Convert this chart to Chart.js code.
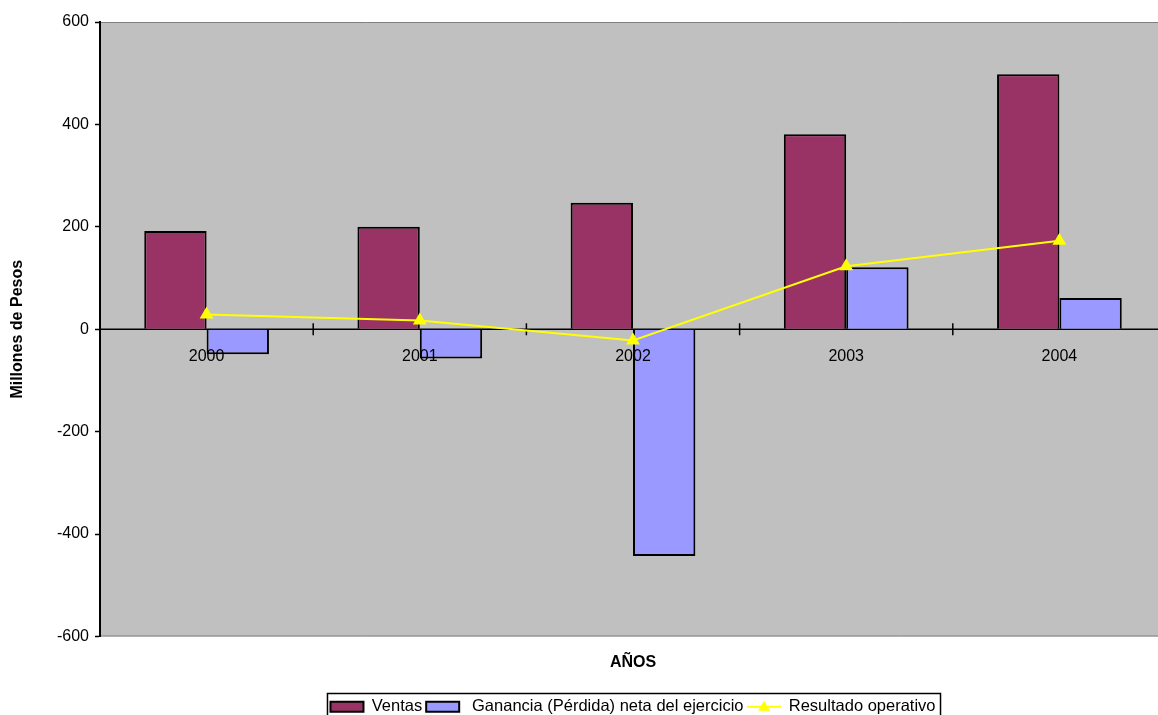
<!DOCTYPE html>
<html>
<head>
<meta charset="utf-8">
<script src="https://cdn.jsdelivr.net/npm/chart.js@4"></script>
<style>
  html, body { margin: 0; padding: 0; background: #fff; overflow: hidden; }
  canvas { display: block; }
</style>
</head>
<body>
<canvas id="ventasChart" width="1174" height="730"></canvas>
<script>
const years = ['2000', '2001', '2002', '2003', '2004'];
const ventas = [192, 200, 247, 381, 498];
const ganancia = [-49, -57, -443, 121, 61];
const resultado = [29, 17, -22, 123, 173];
const yTicks = [-600, -400, -200, 0, 200, 400, 600];

const FONT = '"Liberation Sans", Arial, sans-serif';

// little line+triangle icon for the legend entry of the line series
const lineIcon = document.createElement('canvas');
lineIcon.width = 34;
lineIcon.height = 14;
(function () {
    const c = lineIcon.getContext('2d');
    c.strokeStyle = '#FFFF00';
    c.lineWidth = 2;
    c.beginPath();
    c.moveTo(0, 7);
    c.lineTo(34, 7);
    c.stroke();
    c.fillStyle = '#FFFF00';
    c.beginPath();
    c.moveTo(17, 1);
    c.lineTo(23, 11);
    c.lineTo(11, 11);
    c.closePath();
    c.fill();
})();

const plotDecor = {
    id: 'plotDecor',
    beforeDraw(chart) {
        const { ctx, chartArea: a } = chart;
        ctx.save();
        ctx.fillStyle = '#C0C0C0';
        ctx.fillRect(a.left, a.top, a.right - a.left, a.bottom - a.top);
        ctx.strokeStyle = '#808080';
        ctx.lineWidth = 1;
        ctx.beginPath();
        ctx.moveTo(a.left, a.top + 0.5);
        ctx.lineTo(a.right, a.top + 0.5);
        ctx.moveTo(a.left, a.bottom - 0.5);
        ctx.lineTo(a.right, a.bottom - 0.5);
        ctx.stroke();
        ctx.restore();
    },
    beforeDatasetsDraw(chart) {
        const { ctx, chartArea: a, scales } = chart;
        const x = scales.x, y = scales.y;
        const y0 = y.getPixelForValue(0);
        const step = x.getPixelForValue(1) - x.getPixelForValue(0);
        ctx.save();
        ctx.strokeStyle = '#000';
        ctx.lineWidth = 1.5;
        ctx.beginPath();
        ctx.moveTo(a.left, y0);
        ctx.lineTo(a.right, y0);
        for (let i = 0; i < years.length; i++) {
            const bx = x.getPixelForValue(i) + step / 2;
            ctx.moveTo(bx, y0 - 6);
            ctx.lineTo(bx, y0 + 6);
        }
        ctx.stroke();
        ctx.restore();
    },
    afterDatasetsDraw(chart) {
        const { ctx, scales } = chart;
        const y0 = scales.y.getPixelForValue(0);
        ctx.save();
        ctx.fillStyle = '#000';
        ctx.font = '16px ' + FONT;
        ctx.textAlign = 'center';
        ctx.textBaseline = 'middle';
        years.forEach((yr, i) => {
            ctx.fillText(yr, scales.x.getPixelForValue(i), y0 + 27);
        });
        ctx.restore();
    },
    afterDraw(chart) {
        const boxes = chart.legend.legendHitBoxes;
        if (!boxes || !boxes.length) return;
        const left = Math.min(...boxes.map(b => b.left)) - 3;
        const right = Math.max(...boxes.map(b => b.left + b.width)) + 5;
        const top = Math.min(...boxes.map(b => b.top)) - 5;
        const ctx = chart.ctx;
        ctx.save();
        ctx.strokeStyle = '#000';
        ctx.lineWidth = 1.5;
        ctx.strokeRect(left, top, right - left, 60);
        ctx.restore();
    }
};

const ctx = document.getElementById('ventasChart').getContext('2d');
const ventasChart = new Chart(ctx, {
    type: 'bar',
    data: {
        labels: years,
        datasets: [{
            label: 'Ventas',
            data: ventas,
            backgroundColor: '#993366',
            borderColor: '#000',
            borderWidth: 2,
            order: 1
        }, {
            label: ' Ganancia (Pérdida) neta del ejercicio',
            data: ganancia,
            backgroundColor: '#9999FF',
            borderColor: '#000',
            borderWidth: 2,
            order: 1
        }, {
            type: 'line',
            label: 'Resultado operativo',
            data: resultado,
            borderColor: '#FFFF00',
            backgroundColor: '#FFFF00',
            borderWidth: 2,
            tension: 0,
            pointStyle: 'triangle',
            pointRadius: 6,
            pointBackgroundColor: '#FFFF00',
            pointBorderColor: '#FFFF00',
            order: 0
        }]
    },
    options: {
        responsive: false,
        animation: false,
        layout: { padding: { top: 22, right: 2, left: 0, bottom: 5 } },
        datasets: {
            bar: { categoryPercentage: 0.585, barPercentage: 1.0 }
        },
        scales: {
            x: {
                ticks: { display: false },
                grid: { display: false },
                border: { display: false },
                title: {
                    display: true,
                    text: 'AÑOS',
                    color: '#000',
                    font: { family: FONT, size: 16, weight: 'bold' },
                    padding: { top: 0, bottom: 22 }
                },
                afterFit(s) { s.height = 58; }
            },
            y: {
                min: -600,
                max: 600,
                afterBuildTicks(s) { s.ticks = yTicks.map(v => ({ value: v })); },
                ticks: {
                    color: '#000',
                    padding: 6,
                    font: { family: FONT, size: 16 }
                },
                grid: {
                    drawOnChartArea: false,
                    tickLength: 5,
                    tickColor: '#000',
                    tickWidth: 1.5
                },
                border: { color: '#000', width: 2 },
                title: {
                    display: true,
                    text: 'Millones de Pesos',
                    color: '#000',
                    font: { family: FONT, size: 16, weight: 'bold' },
                    padding: { top: 8, bottom: 0 }
                },
                afterFit(s) { s.width = 100; }
            }
        },
        plugins: {
            tooltip: { enabled: false },
            legend: {
                position: 'bottom',
                fullSize: false,
                labels: {
                    color: '#000',
                    font: { family: FONT, size: 16.5 },
                    usePointStyle: true,
                    pointStyleWidth: 33,
                    boxHeight: 10,
                    padding: 4,
                    sort: (a, b) => a.datasetIndex - b.datasetIndex,
                    generateLabels(chart) {
                        const items = Chart.defaults.plugins.legend.labels.generateLabels(chart);
                        items.forEach(it => {
                            it.pointStyle = it.datasetIndex === 2 ? lineIcon : 'rect';
                        });
                        return items;
                    }
                }
            }
        }
    },
    plugins: [plotDecor]
});
</script>
</body>
</html>
